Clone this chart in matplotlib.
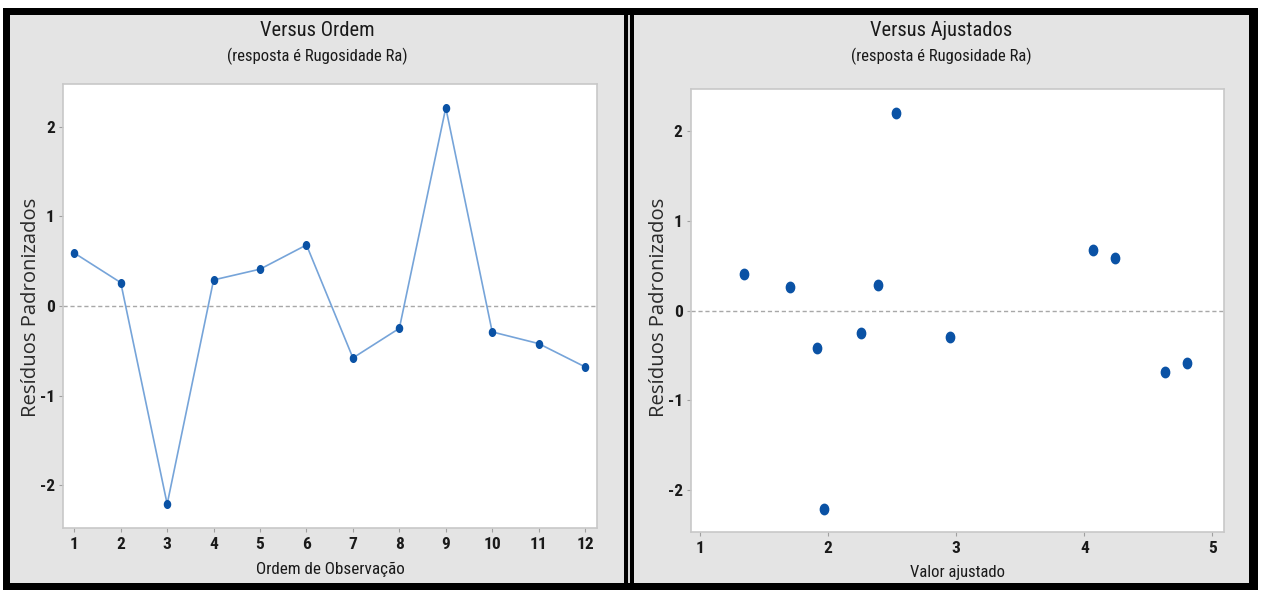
import matplotlib
matplotlib.use("Agg")
import matplotlib.pyplot as plt
from matplotlib.patches import Rectangle
from matplotlib.markers import MarkerStyle
from matplotlib.transforms import Affine2D

plt.rcParams["axes.unicode_minus"] = False

# ---- data ----
ordem = [1, 2, 3, 4, 5, 6, 7, 8, 9, 10, 11, 12]
residuos = [0.59, 0.26, -2.21, 0.29, 0.41, 0.68, -0.58, -0.25, 2.21, -0.29, -0.42, -0.68]
ajustados = [4.24, 1.70, 1.97, 2.39, 1.34, 4.07, 4.80, 2.26, 2.53, 2.95, 1.91, 4.63]
xticks_left = list(range(1, 13))
xticks_right = [1, 2, 3, 4, 5]
yticks = [-2, -1, 0, 1, 2]
titles = ["Versus Ordem", "Versus Ajustados"]
subtitle = "(resposta é Rugosidade Ra)"
xlabels = ["Ordem de Observação", "Valor ajustado"]
ylabel = "Resíduos Padronizados"

W, H = 1263, 590
fig = plt.figure(figsize=(W / 100, H / 100), dpi=100, facecolor="white")

NARROW = ["Roboto Condensed", "Liberation Sans Narrow", "Roboto", "DejaVu Sans"]
WIDE = ["Open Sans", "DejaVu Sans"]
PANEL = "#e4e4e4"


def prect(x0, y0, x1, y1, color, z=-10):
    r = Rectangle((x0 / W, 1 - y1 / H), (x1 - x0) / W, (y1 - y0) / H,
                  transform=fig.transFigure, facecolor=color, edgecolor="none", zorder=z)
    fig.add_artist(r)


# frame and panels
prect(3, 8, 1258, 590, "black", -12)
prect(10, 15, 624, 583, PANEL, -11)
prect(628, 15, 630, 583, "#d8d8d8", -11)
prect(634, 15, 1249, 583, PANEL, -11)


def ax_at(x0, y0, x1, y1):
    return fig.add_axes([x0 / W, 1 - y1 / H, (x1 - x0) / W, (y1 - y0) / H])


def style(ax):
    ax.set_facecolor("white")
    for s in ax.spines.values():
        s.set_color("#c8c8c8")
        s.set_linewidth(1.2)
    ax.tick_params(length=3, width=0.8, color="#a0a0a0", pad=3,
                   labelsize=12.5, labelcolor="#1a1a1a")
    for lab in ax.get_xticklabels() + ax.get_yticklabels():
        lab.set_family(NARROW)
        lab.set_fontweight("bold")
    ax.axhline(0, color="#a8a8a8", lw=1, ls=(0, (3, 2)), zorder=1)


ellipse = MarkerStyle("o", transform=Affine2D().scale(0.8, 1.0))

# left panel
axL = ax_at(63.3, 84, 596.7, 528.3)
axL.plot(ordem, residuos, color="#76a4d9", lw=1.2, zorder=2)
axL.plot(ordem, residuos, ls="none", marker=ellipse, ms=5.5,
         color="#0a52a5", zorder=3)
axL.set_xlim(0.763, 12.25)
axL.set_ylim(-2.48, 2.475)
axL.set_xticks(xticks_left)
axL.set_yticks(yticks)
style(axL)

# right panel
axR = ax_at(691, 89.3, 1224, 532.3)
axR.plot(ajustados, residuos, ls="none", marker=ellipse, ms=7.5,
         color="#0a52a5", zorder=3)
axR.set_xlim(0.93, 5.09)
axR.set_ylim(-2.47, 2.47)
axR.set_xticks(xticks_right)
axR.set_yticks(yticks)
style(axR)

# texts
for cx, t, xl, xlx, xly, xls, ylx in [(317, titles[0], xlabels[0], 330, 569, 12.3, 31),
                                       (941.5, titles[1], xlabels[1], 957, 573, 12, 659)]:
    fig.text(cx / W, 1 - 30 / H, t, ha="center", va="center",
             family=NARROW, fontsize=14.8, color="#1a1a1a")
    fig.text(cx / W, 1 - 56 / H, subtitle, ha="center", va="center",
             family=NARROW, fontsize=12, color="#1a1a1a")
    fig.text(xlx / W, 1 - xly / H, xl, ha="center", va="center",
             family=NARROW, fontsize=xls, color="#1a1a1a")
    fig.text(ylx / W, 1 - 307 / H, ylabel, ha="center", va="center",
             rotation=90, family=WIDE, fontsize=14.6, color="#2a2a2a")

fig.savefig("out.png", dpi=100, facecolor="white")
